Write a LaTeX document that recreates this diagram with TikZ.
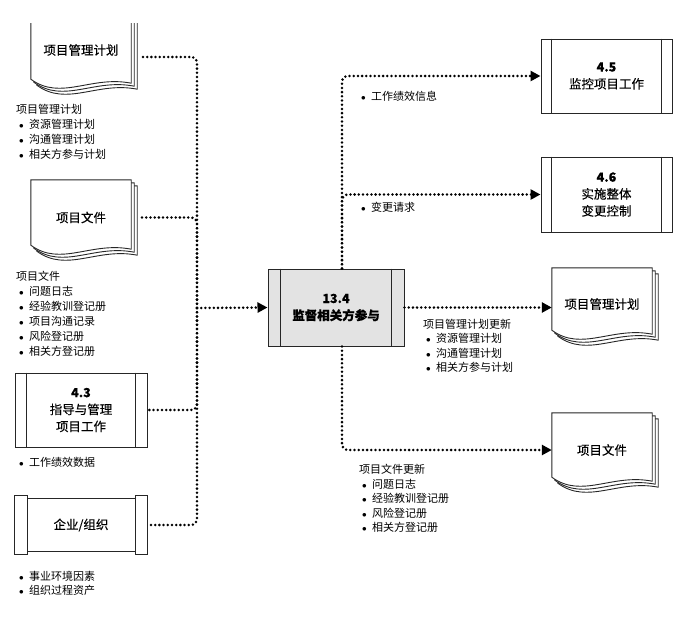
\documentclass[tikz,border=0pt]{standalone}
\usepackage{fontspec}
\setmainfont{Noto Sans CJK SC}
\newfontfamily\boxfamily[FakeBold=0.25]{Noto Sans CJK SC}
\usetikzlibrary{arrows.meta,calc,backgrounds}

\newcommand{\boxfont}{\boxfamily\fontsize{12.5}{17}\selectfont}
\newcommand{\listfont}{\fontsize{11}{15}\selectfont}
\newcommand{\bul}{\hspace*{3pt}\makebox[10pt][l]{\small$\bullet$}}

% one sheet of a stacked document, shifted by (#2,#3)
\newcommand{\pagesheet}[3]{%
  \filldraw[black!85, line width=0.9pt, fill=white, transform canvas={shift={(#2,#3)}}]
    (#1.north west) -- (#1.north east) -- ([yshift=6]#1.south east)
    .. controls ($(#1.south west)!0.6!(#1.south east)+(0,14)$) and ($(#1.south west)!0.3!(#1.south east)+(0,-12)$) .. ([yshift=10]#1.south west) -- cycle;}
\newcommand{\docpage}[1]{\pagesheet{#1}{6}{-6}\pagesheet{#1}{3}{-3}\pagesheet{#1}{0}{0}}

\begin{document}
\begin{tikzpicture}[x=1pt,y=1pt]
        \tikzstyle{boxline} = [draw=black!85, line width=1pt]
        \tikzstyle{proc} = [boxline, minimum width=132pt, minimum height=74pt, inner sep=0pt, align=center, font=\boxfont]
        \tikzstyle{doc} = [minimum width=100pt, inner sep=0pt, align=center, font=\boxfont]
        \tikzstyle{info} = [anchor=north west, inner sep=0pt, align=left, font=\listfont]
        \tikzstyle{dotline} = [black, line width=2.8pt, line cap=round, dash pattern=on 0pt off 4.2pt, rounded corners=6pt]
        \tikzstyle{flow} = [dotline, -{Triangle[length=10pt,width=10pt]}]

        \useasboundingbox (0,0) rectangle (686,-625);

        % inputs
        \node[doc, minimum height=78pt] (pmpL) at (81,-50) {项目管理计划};
        \node[doc, minimum height=75pt] (docL) at (81,-217.5) {项目文件};
        \node[proc] (dmw) at (81,-410) {\textbf{4.3}\\指导与管理\\项目工作};
        \node[proc, draw=none, minimum height=58pt] (eeo) at (81,-525) {企业/组织};

        % process
        \node[proc, fill=black!11, minimum width=136pt, minimum height=77pt] (mon) at (336,-307.5) {\textbf{13.4}\\\textbf{监督相关方参与}};

        % outputs
        \node[proc, minimum width=131pt] (mcw) at (606.5,-76) {\textbf{4.5}\\监控项目工作};
        \node[proc, minimum width=131pt, minimum height=75pt] (iic) at (606.5,-194.5) {\textbf{4.6}\\实施整体\\变更控制};
        \node[doc, minimum height=72pt] (pmpR) at (602,-304) {项目管理计划};
        \node[doc, minimum height=74pt] (pfR) at (602,-450) {项目文件};

        \foreach \n/\w in {dmw/12, mon/13, mcw/11, iic/11} {
            \draw[boxline] ([xshift=\w]\n.north west) -- ([xshift=\w]\n.south west);
            \draw[boxline] ([xshift=-\w]\n.north east) -- ([xshift=-\w]\n.south east);
        }
        \draw[boxline] (eeo.north west) rectangle ([xshift=13]eeo.south west);
        \draw[boxline] (eeo.north east) rectangle ([xshift=-12]eeo.south east);
        \draw[boxline] ([xshift=13,yshift=-3]eeo.north west) rectangle ([xshift=-12,yshift=3]eeo.south east);

        \begin{scope}[on background layer]
            \begin{scope}
                \clip (0,-23) rectangle (686,-200);
                \docpage{pmpL}
            \end{scope}
            \docpage{docL}
            \docpage{pmpR}
            \docpage{pfR}
        \end{scope}

        % connectors
        \coordinate (lbus) at (197,-308);
        \coordinate (rbus) at (342,-307);
        \draw[dotline] (lbus) |- ([xshift=8,yshift=-7]pmpL.east);
        \draw[dotline] (lbus) |- ([xshift=8]docL.east);
        \draw[dotline] (lbus) |- (dmw.east);
        \draw[dotline] (lbus) |- (eeo.east);
        \draw[flow] (lbus) -- (mon.west);

        \draw[flow] (rbus |- mon.north) |- (mcw.west);
        \draw[flow] (rbus |- mon.north) |- (iic.west);
        \draw[flow] (mon.east) -- (mon.east -| pmpR.west);
        \draw[flow] (rbus |- mon.south) |- (pfR.west);

        % labels
        \node[info] (pmpLtxt) at (16,-104) {项目管理计划\\\bul 资源管理计划\\\bul 沟通管理计划\\\bul 相关方参与计划};
        \node[info] (docLtxt) at (16,-271) {项目文件\\\bul 问题日志\\\bul 经验教训登记册\\\bul 项目沟通记录\\\bul 风险登记册\\\bul 相关方登记册};
        \node[info] (dmwtxt) at (16,-457) {\bul 工作绩效数据};
        \node[info, font=\fontsize{11}{14}\selectfont] (eeotxt) at (16,-571) {\bul 事业环境因素\\\bul 组织过程资产};
        \node[info] (mcwtxt) at (358,-91) {\bul 工作绩效信息};
        \node[info] (iictxt) at (358,-202) {\bul 变更请求};
        \node[info, font=\fontsize{11}{14.3}\selectfont] (pmpRtxt) at (423,-319) {项目管理计划更新\\\bul 资源管理计划\\\bul 沟通管理计划\\\bul 相关方参与计划};
        \node[info, font=\fontsize{11}{14.5}\selectfont] (pfRtxt) at (359,-464) {项目文件更新\\\bul 问题日志\\\bul 经验教训登记册\\\bul 风险登记册\\\bul 相关方登记册};
\end{tikzpicture}
\end{document}
